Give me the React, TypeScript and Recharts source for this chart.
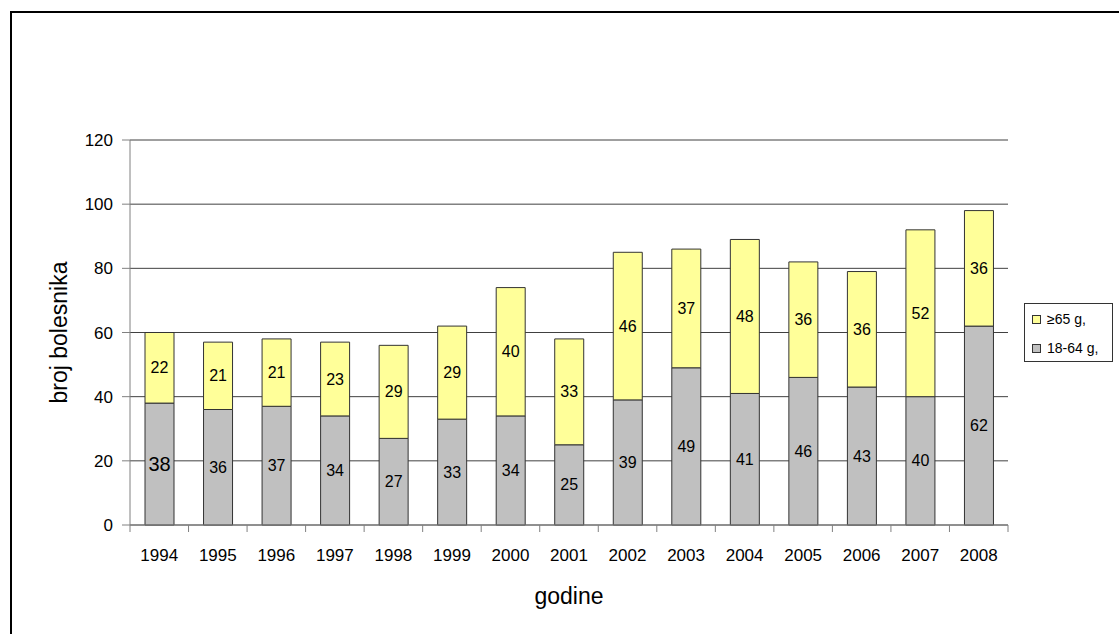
import { Bar, BarChart, CartesianGrid, Legend, XAxis, YAxis } from "recharts";

const years = ["1994", "1995", "1996", "1997", "1998", "1999", "2000", "2001", "2002", "2003", "2004", "2005", "2006", "2007", "2008"];
const adults = [38, 36, 37, 34, 27, 33, 34, 25, 39, 49, 41, 46, 43, 40, 62];
const seniors = [22, 21, 21, 23, 29, 29, 40, 33, 46, 37, 48, 36, 36, 52, 36];
const yTicks = [0, 20, 40, 60, 80, 100, 120];
// the first grey label is drawn larger in the original
const bigLabelYears = ["1994"];

const FONT = '"Liberation Sans", Arial, sans-serif';

const data = years.map((year, i) => ({ year, adults: adults[i], seniors: seniors[i] }));

function YearTick(props: any) {
  const { x, y, payload, index } = props;
  const half = payload.offset ?? 0;
  return (
    <g>
      <line x1={x - half} y1={y} x2={x - half} y2={y + 7} stroke="#808080" />
      {index === years.length - 1 && <line x1={x + half} y1={y} x2={x + half} y2={y + 7} stroke="#808080" />}
      <text x={x} y={y + 36} textAnchor="middle" fontSize={17} fill="#000" fontFamily={FONT}>
        {payload.value}
      </text>
    </g>
  );
}

function YTitle(props: any) {
  const vb = props.viewBox || {};
  const cx = vb.x - 11;
  const cy = vb.y + vb.height / 2;
  return (
    <text
      x={cx}
      y={cy}
      transform={`rotate(-90, ${cx}, ${cy})`}
      textAnchor="middle"
      dominantBaseline="central"
      fontSize={23}
      fill="#000"
      fontFamily={FONT}
    >
      broj bolesnika
    </text>
  );
}

// label shows the segment's own value, not the stacked total
function makeLabel(values: number[], allowBig: boolean) {
  return (props: any) => {
    const { x, y, width, height, index } = props;
    const big = allowBig && bigLabelYears.includes(years[index]);
    return (
      <text
        key={`l-${index}`}
        x={Number(x) + Number(width) / 2}
        y={Number(y) + Number(height) / 2}
        textAnchor="middle"
        dominantBaseline="central"
        fontSize={big ? 20 : 16}
        fill="#000"
        fontFamily={FONT}
      >
        {values[index]}
      </text>
    );
  };
}

function LegendBox() {
  const items = [
    { label: "≥65 g,", color: "#FFFF99" },
    { label: "18-64 g,", color: "#C0C0C0" },
  ];
  return (
    <div
      style={{
        border: "1px solid #333",
        background: "#fff",
        width: 89,
        height: 59,
        boxSizing: "border-box",
        padding: "5px 0 0 7px",
        fontFamily: FONT,
        fontSize: 14,
        textAlign: "left",
      }}
    >
      {items.map((it) => (
        <div key={it.label} style={{ display: "flex", alignItems: "center", height: 20, marginBottom: 9 }}>
          <span
            style={{
              display: "inline-block",
              width: 7,
              height: 7,
              background: it.color,
              border: "1px solid #333",
              marginRight: 6,
            }}
          />
          <span>{it.label}</span>
        </div>
      ))}
    </div>
  );
}

export default function App() {
  return (
    <div style={{ position: "absolute", left: 0, top: 0, width: 1119, height: 634, background: "#fff", overflow: "hidden" }}>
      <div
        style={{
          position: "absolute",
          left: 10,
          top: 11,
          width: 1200,
          height: 700,
          borderTop: "2px solid #000",
          borderLeft: "2px solid #000",
        }}
      />
      <div style={{ position: "absolute", left: 0, top: 0 }}>
        <BarChart
          width={1119}
          height={634}
          data={data}
          margin={{ top: 140, right: 111, bottom: 79, left: 70 }}
          barSize={29}
        >
          <CartesianGrid vertical={false} stroke="#404040" />
          <XAxis
            dataKey="year"
            height={30}
            stroke="#808080"
            tickLine={false}
            tickSize={0}
            tickMargin={0}
            interval={0}
            tick={<YearTick />}
            label={{ value: "godine", position: "bottom", offset: 33, fontSize: 23, fill: "#000", fontFamily: FONT }}
          />
          <YAxis
            width={60}
            domain={[0, 120]}
            ticks={yTicks}
            stroke="#808080"
            tickSize={8}
            tickMargin={9}
            tick={{ fontSize: 17, fill: "#000", fontFamily: FONT }}
            label={{ value: "broj bolesnika", content: <YTitle /> }}
          />
          <Legend
            layout="vertical"
            align="center"
            verticalAlign="middle"
            content={<LegendBox />}
            wrapperStyle={{ left: 1024, top: 303, width: 89 }}
          />
          <Bar
            dataKey="adults"
            stackId="a"
            fill="#C0C0C0"
            stroke="#333"
            isAnimationActive={false}
            label={makeLabel(adults, true)}
          />
          <Bar
            dataKey="seniors"
            stackId="a"
            fill="#FFFF99"
            stroke="#333"
            isAnimationActive={false}
            label={makeLabel(seniors, false)}
          />
        </BarChart>
      </div>
    </div>
  );
}
